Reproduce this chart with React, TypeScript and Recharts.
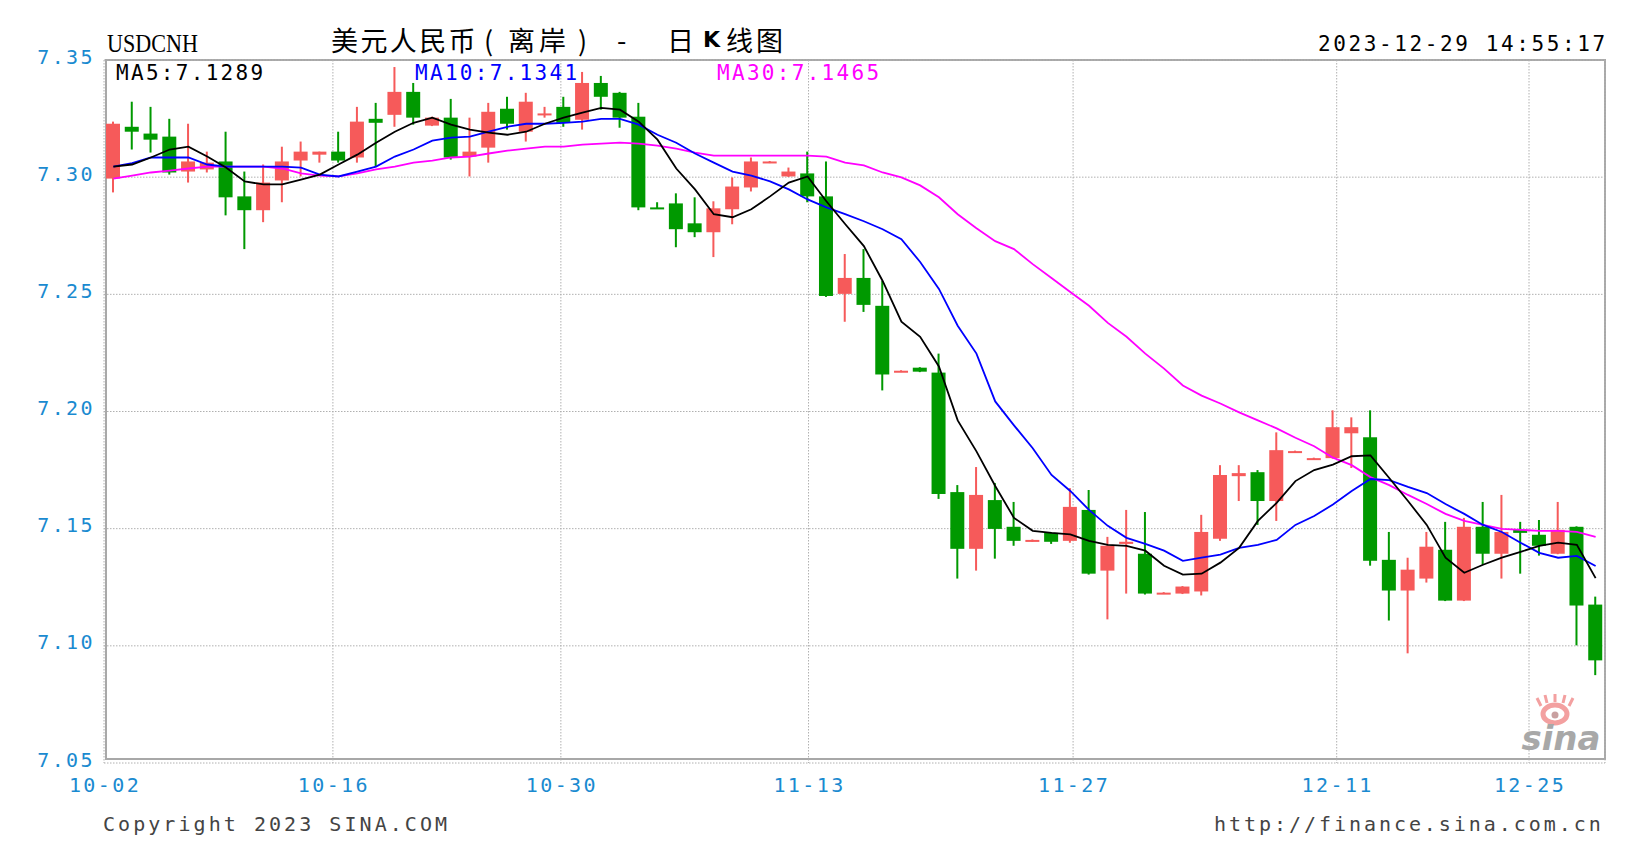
import React from 'react';
import { ComposedChart, Bar, Line, XAxis, YAxis, CartesianGrid } from 'recharts';

const dates = [
  '10-02','10-03','10-04','10-05','10-06','10-07',
  '10-09','10-10','10-11','10-12','10-13','10-14',
  '10-16','10-17','10-18','10-19','10-20','10-21',
  '10-23','10-24','10-25','10-26','10-27','10-28',
  '10-30','10-31','11-01','11-02','11-03','11-04',
  '11-06','11-07','11-08','11-09','11-10','11-11','11-12',
  '11-13','11-14','11-15','11-16','11-17','11-18','11-19',
  '11-20','11-21','11-22','11-23','11-24','11-25','11-26',
  '11-27','11-28','11-29','11-30','12-01','12-02','12-03',
  '12-04','12-05','12-06','12-07','12-08','12-09','12-10',
  '12-11','12-12','12-13','12-14','12-15',
  '12-18','12-19','12-20','12-21','12-22','12-23',
  '12-26','12-27','12-28','12-29',
];

const openV = [
  7.2994,7.3215,7.3186,7.3173,7.3024,7.3033,7.3067,7.2918,7.2859,7.2986,
  7.3071,7.3096,7.3109,7.3084,7.3249,7.3266,7.3364,7.3220,7.3254,7.3088,
  7.3126,7.3292,7.3194,7.3268,7.3300,7.3245,7.3402,7.3360,7.3258,7.2871,
  7.2888,7.2803,7.2765,7.2863,7.2956,7.3062,7.3003,7.3016,7.2918,7.2502,
  7.2570,7.2451,7.2170,7.2187,7.2166,7.1656,7.1414,7.1622,7.1508,7.1446,
  7.1482,7.1448,7.1580,7.1321,7.1435,7.1393,7.1223,7.1223,7.1232,7.1457,
  7.1724,7.1741,7.1618,7.1827,7.1797,7.1801,7.1907,7.1890,7.1367,7.1236,
  7.1287,7.1410,7.1193,7.1508,7.1393,7.1495,7.1474,7.1393,7.1508,7.1176,
];
const highV = [
  7.3237,7.3322,7.3300,7.3249,7.3228,7.3109,7.3194,7.3024,7.3054,7.3130,
  7.3152,7.3109,7.3194,7.3300,7.3317,7.3470,7.3402,7.3258,7.3334,7.3254,
  7.3317,7.3343,7.3360,7.3300,7.3343,7.3449,7.3432,7.3364,7.3317,7.2893,
  7.2931,7.2914,7.2897,7.2999,7.3084,7.3069,7.3041,7.3109,7.3067,7.2672,
  7.2693,7.2557,7.2176,7.2189,7.2247,7.1686,7.1763,7.1695,7.1614,7.1454,
  7.1484,7.1673,7.1665,7.1465,7.1580,7.1571,7.1229,7.1255,7.1559,7.1771,
  7.1771,7.1750,7.1911,7.1833,7.1803,7.2005,7.1975,7.2005,7.1486,7.1376,
  7.1486,7.1529,7.1546,7.1614,7.1644,7.1529,7.1537,7.1614,7.1510,7.1210,
];
const lowV = [
  7.2935,7.3118,7.3105,7.3011,7.2977,7.3020,7.2837,7.2693,7.2808,7.2893,
  7.3003,7.3062,7.3062,7.3062,7.3045,7.3215,7.3224,7.3218,7.3075,7.3003,
  7.3062,7.3203,7.3152,7.3254,7.3215,7.3203,7.3288,7.3211,7.2859,7.2865,
  7.2701,7.2744,7.2659,7.2799,7.2939,7.3060,7.3001,7.2893,7.2489,7.2383,
  7.2425,7.2090,7.2168,7.2168,7.1627,7.1287,7.1321,7.1372,7.1427,7.1444,
  7.1435,7.1440,7.1304,7.1113,7.1223,7.1219,7.1221,7.1221,7.1215,7.1448,
  7.1618,7.1516,7.1533,7.1825,7.1795,7.1799,7.1759,7.1342,7.1108,7.0968,
  7.1270,7.1191,7.1191,7.1346,7.1287,7.1308,7.1385,7.1391,7.1002,7.0875,
];
const closeV = [
  7.3228,7.3194,7.3160,7.3020,7.3067,7.3062,7.2914,7.2859,7.2977,7.3067,
  7.3109,7.3109,7.3071,7.3237,7.3232,7.3364,7.3254,7.3254,7.3084,7.3109,
  7.3279,7.3228,7.3322,7.3272,7.3232,7.3402,7.3343,7.3254,7.2871,7.2867,
  7.2778,7.2765,7.2867,7.2960,7.3067,7.3067,7.3024,7.2918,7.2493,7.2570,
  7.2455,7.2158,7.2174,7.2170,7.1648,7.1414,7.1644,7.1499,7.1448,7.1452,
  7.1444,7.1593,7.1308,7.1427,7.1444,7.1223,7.1227,7.1253,7.1486,7.1729,
  7.1737,7.1618,7.1835,7.1831,7.1801,7.1933,7.1933,7.1363,7.1236,7.1325,
  7.1423,7.1193,7.1508,7.1393,7.1486,7.1482,7.1427,7.1495,7.1172,7.0938,
];

const ma5V = [
  7.3045,7.3054,7.3084,7.3118,7.3130,7.3088,7.3041,7.2982,7.2969,7.2969,
  7.2990,7.3011,7.3054,7.3096,7.3147,7.3194,7.3232,7.3254,7.3224,7.3203,
  7.3190,7.3181,7.3194,7.3228,7.3254,7.3275,7.3296,7.3288,7.3237,7.3160,
  7.3037,7.2948,7.2842,7.2829,7.2863,7.2918,7.2977,7.3003,7.2897,7.2800,
  7.2706,7.2557,7.2383,7.2319,7.2192,7.1962,7.1830,7.1682,7.1546,7.1491,
  7.1482,7.1476,7.1448,7.1431,7.1427,7.1406,7.1342,7.1304,7.1308,7.1355,
  7.1418,7.1533,7.1610,7.1703,7.1750,7.1773,7.1809,7.1813,7.1716,7.1618,
  7.1516,7.1376,7.1312,7.1346,7.1376,7.1401,7.1427,7.1440,7.1431,7.1289,
];
const ma10V = [
  7.3045,7.3060,7.3084,7.3084,7.3084,7.3054,7.3045,7.3045,7.3045,7.3045,
  7.3041,7.3011,7.3003,7.3024,7.3045,7.3088,7.3118,7.3156,7.3169,7.3173,
  7.3194,7.3215,7.3228,7.3228,7.3232,7.3237,7.3249,7.3249,7.3224,7.3181,
  7.3147,7.3101,7.3062,7.3024,7.3007,7.2982,7.2948,7.2905,7.2871,7.2842,
  7.2812,7.2778,7.2735,7.2638,7.2523,7.2366,7.2247,7.2043,7.1941,7.1843,
  7.1729,7.1661,7.1580,7.1512,7.1461,7.1435,7.1406,7.1363,7.1376,7.1389,
  7.1418,7.1431,7.1452,7.1516,7.1554,7.1603,7.1661,7.1712,7.1707,7.1678,
  7.1652,7.1605,7.1563,7.1516,7.1486,7.1440,7.1397,7.1376,7.1384,7.1341,
];
const ma30V = [
  7.2994,7.3007,7.3020,7.3028,7.3037,7.3045,7.3045,7.3045,7.3045,7.3037,
  7.3016,7.3007,7.3003,7.3016,7.3033,7.3045,7.3062,7.3071,7.3084,7.3088,
  7.3101,7.3113,7.3122,7.3130,7.3130,7.3139,7.3143,7.3147,7.3143,7.3135,
  7.3122,7.3105,7.3092,7.3092,7.3092,7.3092,7.3092,7.3092,7.3088,7.3062,
  7.3050,7.3020,7.2999,7.2965,7.2914,7.2842,7.2782,7.2727,7.2693,7.2629,
  7.2570,7.2510,7.2451,7.2378,7.2319,7.2247,7.2183,7.2111,7.2068,7.2034,
  7.1996,7.1962,7.1928,7.1888,7.1852,7.1803,7.1771,7.1720,7.1686,7.1644,
  7.1605,7.1563,7.1533,7.1516,7.1499,7.1495,7.1491,7.1491,7.1486,7.1465,
];

const yTicks = [7.05, 7.10, 7.15, 7.20, 7.25, 7.30, 7.35];
const xTickLabels = ['10-02', '10-16', '10-30', '11-13', '11-27', '12-11', '12-25'];
// tick slots measured in bar widths from the left edge of the plot
const xTickSlots = [0, 12.2, 24.35, 37.55, 51.65, 65.7, 75.95];

const data = dates.map((d, i) => ({
  date: d,
  slot: i + 0.5,
  open: openV[i],
  high: highV[i],
  low: lowV[i],
  close: closeV[i],
  ma5: ma5V[i],
  ma10: ma10V[i],
  ma30: ma30V[i],
}));

const RED = '#f65a5a';
const GREEN = '#009900';
const TICK_BLUE = '#1a8ad0';
const MONO = '"DejaVu Sans Mono", "Liberation Mono", monospace';

const Candle = (props: any) => {
  const { x, y, width, height, payload } = props;
  if (x == null || y == null || !payload) return null;
  const top = Math.min(y, y + height);
  const h = Math.abs(height);
  const { open, close, high, low } = payload;
  const range = high - low;
  const per = range > 0 ? h / range : 0;
  const yOf = (v: number) => top + (high - v) * per;
  const up = close >= open;
  const color = up ? RED : GREEN;
  const bTop = yOf(Math.max(open, close));
  const bBot = yOf(Math.min(open, close));
  const bodyH = Math.max(2, bBot - bTop);
  const cx = x + width / 2;
  return (
    <g>
      <rect x={cx - 1} y={top} width={2} height={Math.max(h, 1)} fill={color} />
      <rect x={x} y={bTop} width={width} height={bodyH} fill={color} />
    </g>
  );
};

const YTick = (props: any) => {
  const { y, payload } = props;
  return (
    <text x={95} y={y + 3.5} textAnchor="end" fill={TICK_BLUE} fontFamily={MONO} fontSize={20} letterSpacing={2.4}>
      {Number(payload.value).toFixed(2)}
    </text>
  );
};

const XTick = (props: any) => {
  const { x, payload } = props;
  let idx = -1;
  xTickSlots.forEach((s, i) => {
    if (Math.abs(s - payload.value) < 1e-6) idx = i;
  });
  const label = idx >= 0 ? xTickLabels[idx] : '';
  return (
    <text x={x + 1} y={792} textAnchor="middle" fill={TICK_BLUE} fontFamily={MONO} fontSize={20} letterSpacing={2.4}>
      {label}
    </text>
  );
};

const abs = (left: number, top: number, extra: React.CSSProperties = {}): React.CSSProperties => ({
  position: 'absolute',
  left,
  top,
  whiteSpace: 'pre',
  ...extra,
});

export default function App() {
  const last = data.length - 1;
  const cjk: React.CSSProperties = { fontFamily: '"Noto Sans CJK SC", sans-serif', fontSize: 27, lineHeight: '30px', color: '#000' };
  const mono21: React.CSSProperties = { fontFamily: MONO, fontSize: 21, lineHeight: '24px', letterSpacing: 2.3 };
  const mono20: React.CSSProperties = { fontFamily: MONO, fontSize: 20, lineHeight: '24px', letterSpacing: 3.05, color: '#444' };
  return (
    <div style={{ position: 'absolute', left: 0, top: 0, width: 1630, height: 842, background: '#fff', overflow: 'hidden' }}>
      <div style={{ position: 'absolute', left: 105, top: 59, width: 1501, height: 701, border: '2px solid #a8a8a8', boxSizing: 'border-box' }} />
      <div style={{ position: 'absolute', left: 0, top: 0 }}>
        <ComposedChart width={1630} height={842} data={data} margin={{ top: 60, right: 25, bottom: 49, left: 0 }}>
          <CartesianGrid xAxisId="t" stroke="#b0b0b0" strokeDasharray="1.5 1.5" />
          <XAxis xAxisId="c" dataKey="date" hide />
          <XAxis
            xAxisId="t"
            dataKey="slot"
            type="number"
            domain={[0, 80]}
            ticks={xTickSlots}
            allowDataOverflow
            height={30}
            axisLine={false}
            tickLine={false}
            interval={0}
            tick={<XTick />}
          />
          <YAxis
            domain={[7.05, 7.35]}
            ticks={yTicks}
            allowDataOverflow
            width={104}
            axisLine={false}
            tickLine={false}
            interval={0}
            tick={<YTick />}
          />
          <Bar xAxisId="c" dataKey={(d: any) => [d.low, d.high]} barSize={14} shape={<Candle />} isAnimationActive={false} />
          <Line xAxisId="c" type="linear" dataKey="ma30" stroke="#ff00ff" strokeWidth={1.8} dot={false} activeDot={false} isAnimationActive={false} />
          <Line xAxisId="c" type="linear" dataKey="ma10" stroke="#0000ff" strokeWidth={1.8} dot={false} activeDot={false} isAnimationActive={false} />
          <Line xAxisId="c" type="linear" dataKey="ma5" stroke="#000000" strokeWidth={1.8} dot={false} activeDot={false} isAnimationActive={false} />
        </ComposedChart>
      </div>

      <div style={abs(107, 29, { fontFamily: '"Liberation Serif", serif', fontSize: 26, lineHeight: '30px', color: '#000', transform: 'scaleX(0.85)', transformOrigin: '0 0' })}>USDCNH</div>

      <div style={abs(331, 25, { ...cjk, letterSpacing: 2.4 })}>美元人民币</div>
      <div style={abs(484, 25, cjk)}>(</div>
      <div style={abs(508, 25, { ...cjk, letterSpacing: 4 })}>离岸</div>
      <div style={abs(578, 25, cjk)}>)</div>
      <div style={abs(617, 25, cjk)}>-</div>
      <div style={abs(667, 25, cjk)}>日</div>
      <div style={abs(703, 25, { ...cjk, fontWeight: 700, fontFamily: '"DejaVu Sans", sans-serif', fontSize: 22 })}>K</div>
      <div style={abs(726, 25, { ...cjk, letterSpacing: 3 })}>线图</div>

      <div style={abs(1318, 32, { ...mono21, color: '#000', letterSpacing: 2.6 })}>2023-12-29 14:55:17</div>

      <div style={abs(116, 61, { ...mono21, color: '#000' })}>{`MA5:${ma5V[last].toFixed(4)}`}</div>
      <div style={abs(415, 61, { ...mono21, color: '#0000ff' })}>{`MA10:${ma10V[last].toFixed(4)}`}</div>
      <div style={abs(717, 61, { ...mono21, color: '#ff00ff' })}>{`MA30:${ma30V[last].toFixed(4)}`}</div>

      <div style={abs(103, 812, mono20)}>Copyright 2023 SINA.COM</div>
      <div style={abs(1214, 812, { ...mono20, letterSpacing: 2.95 })}>http://finance.sina.com.cn</div>

      <svg style={{ position: 'absolute', left: 1505, top: 688 }} width={110} height={74}>
        <ellipse cx={50} cy={26} rx={12} ry={9} fill="none" stroke="#f3a0a0" strokeWidth={5} />
        <circle cx={50} cy={27} r={3.5} fill="#c9a0a0" />
        <path d="M36 18 L32 10 M42 15 L40 7 M50 14 L50 6 M58 15 L60 7 M64 18 L68 10" stroke="#f3a0a0" strokeWidth={3} />
        <text x={56} y={62} textAnchor="middle" fontFamily='"DejaVu Sans", sans-serif' fontStyle="italic" fontWeight={700} fontSize={34} fill="#a8a8a8">sina</text>
      </svg>
    </div>
  );
}
